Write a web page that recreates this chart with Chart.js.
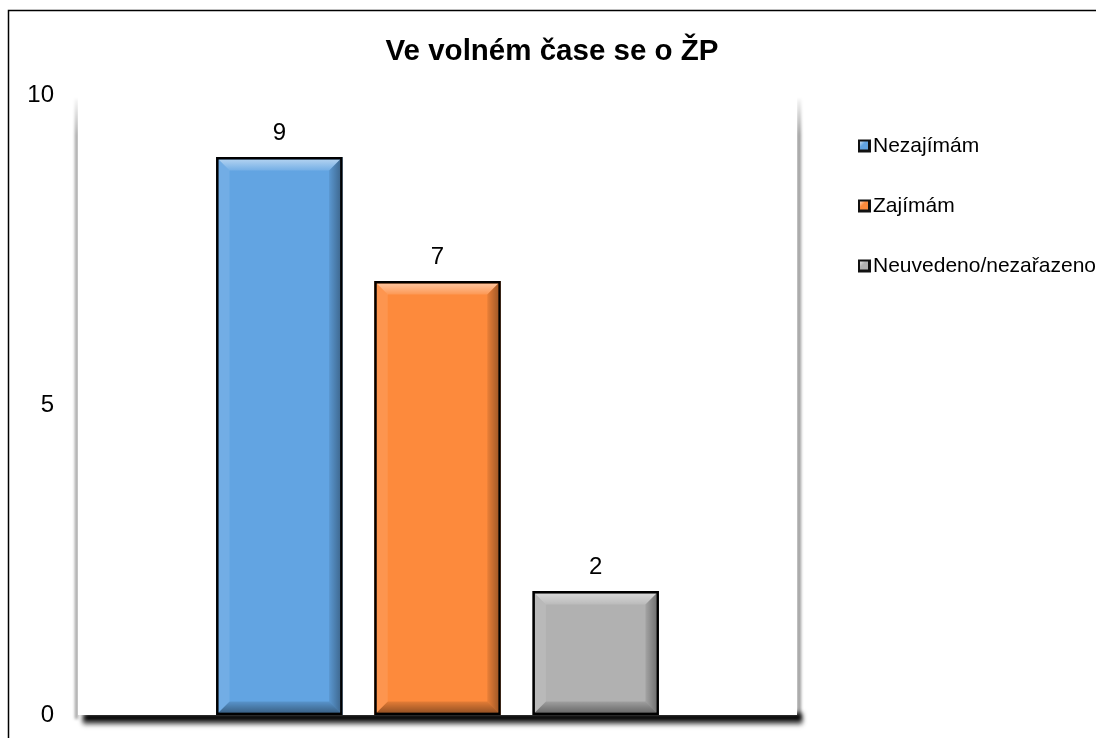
<!DOCTYPE html>
<html>
<head>
<meta charset="utf-8">
<script src="https://cdn.jsdelivr.net/npm/chart.js@4"></script>
<style>
  html, body { margin: 0; padding: 0; background: #fff; overflow: hidden; }
  canvas { display: block; }
</style>
</head>
<body>
<canvas id="chart" width="1096" height="738"></canvas>
<script>
// ---- Data ----
const categories   = [''];
const seriesNames  = ['Nezajímám', 'Zajímám', 'Neuvedeno/nezařazeno'];
const seriesValues = [9, 7, 2];
const seriesColors = ['#62a4e2', '#fd8a3c', '#b1b1b1'];
const yTicks       = [0, 5, 10];
const chartTitle   = 'Ve volném čase se o ŽP';

const FONT = '"Liberation Sans", Arial, sans-serif';

// ---- Frame + title ----
const framePlugin = {
  id: 'frame',
  beforeDraw(chart) {
    const ctx = chart.ctx;
    ctx.save();
    ctx.fillStyle = '#fff';
    ctx.fillRect(0, 0, chart.width, chart.height);
    ctx.strokeStyle = '#000';
    ctx.lineWidth = 1.5;
    ctx.strokeRect(8.5, 10.5, chart.width + 20, chart.height + 20);
    ctx.fillStyle = '#000';
    ctx.font = `bold 29.5px ${FONT}`;
    ctx.textAlign = 'center';
    ctx.textBaseline = 'middle';
    ctx.fillText(chartTitle, chart.width / 2 + 4, 52);
    ctx.restore();
  }
};

// ---- Plot area shadow / floor ----
const plotShadowPlugin = {
  id: 'plotShadow',
  beforeDatasetsDraw(chart) {
    const { ctx, chartArea: a } = chart;
    const h = a.bottom - a.top;
    ctx.save();
    // floor shadow
    ctx.filter = 'blur(2.5px)';
    ctx.fillStyle = '#000';
    ctx.fillRect(a.left + 5, a.bottom - 2, a.right - a.left, 9);
    ctx.fillStyle = 'rgba(0,0,0,0.35)';
    ctx.fillRect(a.left + 5, a.bottom + 5, a.right - a.left, 5);
    // side edges
    ctx.filter = 'blur(1.5px)';
    const lg = ctx.createLinearGradient(0, a.top, 0, a.top + 40);
    lg.addColorStop(0, 'rgba(0,0,0,0)');
    lg.addColorStop(1, 'rgba(0,0,0,0.4)');
    ctx.fillStyle = lg;
    ctx.fillRect(a.left - 3, a.top + 4, 3, h);
    ctx.fillRect(a.right, a.top + 4, 4, h);
    ctx.filter = 'none';
    ctx.fillStyle = '#fff';
    ctx.fillRect(a.left, a.top - 4, a.right - a.left, h + 4);
    ctx.restore();
  }
};

// ---- Bevel + value labels on bars ----
const bevelPlugin = {
  id: 'bevel',
  afterDatasetsDraw(chart) {
    const ctx = chart.ctx;
    chart.data.datasets.forEach((ds, i) => {
      const meta = chart.getDatasetMeta(i);
      meta.data.forEach((el, j) => {
        const { x, y, base, width } = el.getProps(['x', 'y', 'base', 'width'], true);
        const bw = 2.5, b = 11;
        const l = x - width / 2 + bw, r = x + width / 2 - bw;
        const t = y + bw, bt = base - bw;
        const quad = (pts, fill) => {
          ctx.beginPath();
          ctx.moveTo(pts[0][0], pts[0][1]);
          pts.slice(1).forEach(p => ctx.lineTo(p[0], p[1]));
          ctx.closePath();
          ctx.fillStyle = fill;
          ctx.fill();
        };
        ctx.save();
        const topGrad = ctx.createLinearGradient(0, t, 0, t + b);
        topGrad.addColorStop(0, 'rgba(255,255,255,0.5)');
        topGrad.addColorStop(1, 'rgba(255,255,255,0.12)');
        quad([[l, t], [r, t], [r - b, t + b], [l + b, t + b]], topGrad);
        quad([[l, t], [l + b, t + b], [l + b, bt - b], [l, bt]], 'rgba(255,255,255,0.1)');
        const rg = ctx.createLinearGradient(r - b, 0, r, 0);
        rg.addColorStop(0, 'rgba(0,0,0,0.08)');
        rg.addColorStop(1, 'rgba(0,0,0,0.35)');
        quad([[r, t], [r, bt], [r - b, bt - b], [r - b, t + b]], rg);
        const bg = ctx.createLinearGradient(0, bt - b, 0, bt);
        bg.addColorStop(0, 'rgba(0,0,0,0.1)');
        bg.addColorStop(1, 'rgba(0,0,0,0.4)');
        quad([[l, bt], [l + b, bt - b], [r - b, bt - b], [r, bt]], bg);
        ctx.strokeStyle = '#000';
        ctx.lineWidth = 2.5;
        ctx.strokeRect(x - width / 2 + 1.25, y + 1.25, width - 2.5, base - y - 2.5);

        ctx.fillStyle = '#000';
        ctx.font = `24px ${FONT}`;
        ctx.textAlign = 'center';
        ctx.textBaseline = 'alphabetic';
        ctx.fillText(String(ds.data[j]), x, y - 17);
        ctx.restore();
      });
    });
  }
};

// ---- Legend ----
const legendPlugin = {
  id: 'sideLegend',
  afterDraw(chart) {
    const ctx = chart.ctx;
    const x0 = 858, y0 = 146, gap = 60, s = 13;
    ctx.save();
    chart.data.datasets.forEach((ds, i) => {
      const cy = y0 + i * gap;
      ctx.fillStyle = '#111';
      ctx.fillRect(x0, cy - s / 2, s, s);
      const g = ctx.createLinearGradient(x0, cy - s / 2, x0 + s, cy + s / 2);
      g.addColorStop(0, '#ffffff');
      g.addColorStop(0.4, ds.backgroundColor);
      g.addColorStop(1, ds.backgroundColor);
      ctx.fillStyle = g;
      ctx.fillRect(x0 + 2, cy - s / 2 + 2, s - 5, s - 5);
      ctx.fillStyle = '#000';
      ctx.font = `21px ${FONT}`;
      ctx.textAlign = 'left';
      ctx.textBaseline = 'middle';
      ctx.fillText(ds.label, x0 + s + 2, cy);
    });
    ctx.restore();
  }
};

new Chart(document.getElementById('chart'), {
  type: 'bar',
  data: {
    labels: categories,
    datasets: seriesNames.map((name, i) => ({
      label: name,
      data: [seriesValues[i]],
      backgroundColor: seriesColors[i],
      borderColor: '#000',
      borderWidth: 0,
      categoryPercentage: 0.66,
      barPercentage: 0.8,
    })),
  },
  options: {
    responsive: false,
    animation: false,
    devicePixelRatio: 1,
    layout: { padding: { top: 95, right: 299, bottom: 23, left: 0 } },
    plugins: {
      legend: { display: false },
      title: { display: false },
      tooltip: { enabled: false },
    },
    scales: {
      x: { display: false },
      y: {
        min: 0,
        max: 10,
        afterFit: s => { s.width = 78; s.paddingTop = 0; s.paddingBottom = 0; },
        afterBuildTicks: s => { s.ticks = yTicks.map(v => ({ value: v })); },
        grid: { display: false, drawTicks: false },
        border: { display: false },
        ticks: { padding: 24, color: '#000', font: { family: FONT, size: 24 } },
      },
    },
  },
  plugins: [framePlugin, plotShadowPlugin, bevelPlugin, legendPlugin],
});
</script>
</body>
</html>
